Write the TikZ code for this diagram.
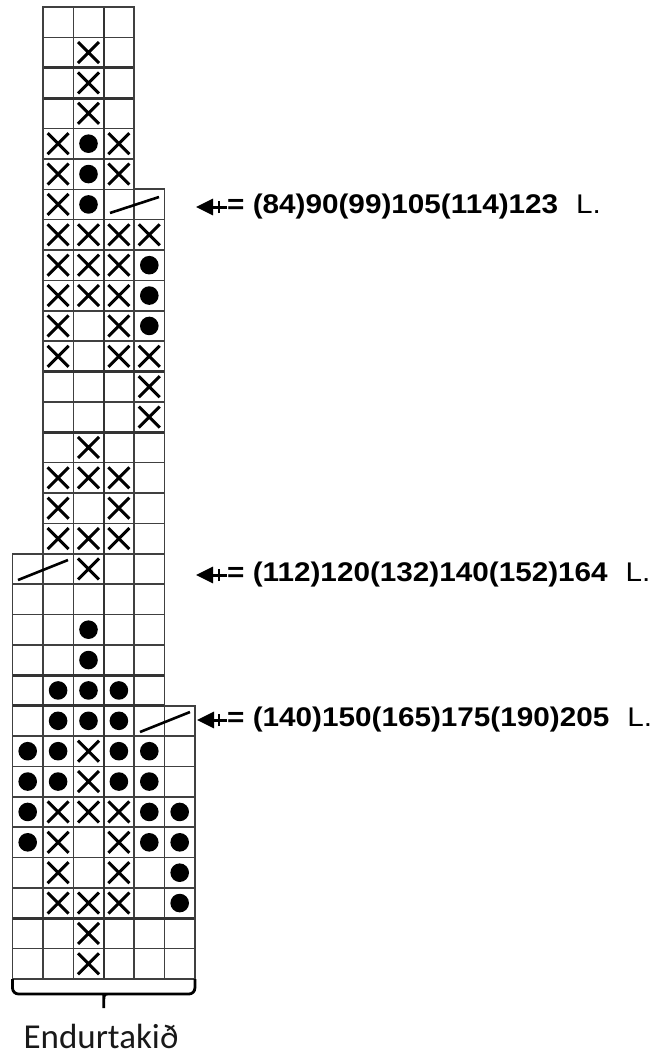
\documentclass[tikz,border=0pt]{standalone}
\usepackage{fontspec}
\usepackage{graphicx}
\newfontfamily\lblfont{Liberation Sans}
\newfontfamily\capfont{Carlito}
\usetikzlibrary{arrows.meta}
\tikzset{
 gridl/.style={draw=black!75, line width=1.5pt},
 thickl/.style={draw=black!80, line width=3.2pt},
 medl/.style={draw=black!80, line width=2.4pt},
 borderl/.style={draw=black!75, line width=1.8pt},
 xmark/.style={line width=3pt, draw=black},
 slashl/.style={line width=2.6pt, draw=black},
 lbl/.style={font=\lblfont\bfseries\fontsize{27}{32}\selectfont, inner sep=0pt, anchor=west},
 larrow/.style={line width=3pt, -{Triangle[length=17pt,width=16pt]}},
 crossbar/.style={line width=2.6pt},
 bracel/.style={line width=2.8pt, draw=black},
 captext/.style={font=\capfont\fontsize{35}{42}\selectfont, text=black!90, inner sep=0pt, anchor=base},
}
\newcommand\cellbox[2]{\draw[gridl] ({12.5+(#1-1)*30.4},{7+(#2-1)*30.375}) rectangle ++(30.4,30.375);}
\newcommand\mkX[2]{\draw[xmark] ({12.5+(#1-0.5)*30.4-10.5},{7+(#2-0.5)*30.375-10.5}) -- ++(21,21) ({12.5+(#1-0.5)*30.4-10.5},{7+(#2-0.5)*30.375+10.5}) -- ++(21,-21);}
\newcommand\mkD[2]{\fill[black] ({12.5+(#1-0.5)*30.4},{7+(#2-0.5)*30.375}) circle (9.3pt);}
\begin{document}
\begin{tikzpicture}[x=1pt,y=-1pt]
\useasboundingbox (0,0) rectangle (654,1057);
% grid cells
\foreach \r in {1,...,6}{\foreach \c in {2,...,4}{\cellbox{\c}{\r}}}
\foreach \r in {7,...,18}{\foreach \c in {2,...,5}{\cellbox{\c}{\r}}}
\foreach \r in {19,...,23}{\foreach \c in {1,...,5}{\cellbox{\c}{\r}}}
\foreach \r in {24,...,32}{\foreach \c in {1,...,6}{\cellbox{\c}{\r}}}
% heavy lines
\draw[thickl] (42.9,67.75) -- (134.1,67.75);
\draw[thickl] (42.9,98.1) -- (134.1,98.1);
\draw[thickl] (42.9,371.5) -- (164.5,371.5);
\draw[thickl] (42.9,432.25) -- (164.5,432.25);
\draw[thickl] (12.5,675.25) -- (164.5,675.25);
\draw[medl] (12.5,705.6) -- (164.5,705.6);
\draw[thickl] (12.5,918.25) -- (194.9,918.25);
\draw[medl] (103.7,7) -- (103.7,979);
% outline
\draw[borderl] (42.9,7) -- (134.1,7) -- (134.1,189.25) -- (164.5,189.25) -- (164.5,705.6) -- (194.9,705.6) -- (194.9,979) -- (12.5,979) -- (12.5,553.75) -- (42.9,553.75) -- cycle;
% symbols
\mkX{3}{2} \mkX{3}{3} \mkX{3}{4}
\mkX{2}{5} \mkD{3}{5} \mkX{4}{5}
\mkX{2}{6} \mkD{3}{6} \mkX{4}{6}
\mkX{2}{7} \mkD{3}{7}
\draw[slashl] (110,213) -- (159,197);
\mkX{2}{8} \mkX{3}{8} \mkX{4}{8} \mkX{5}{8}
\mkX{2}{9} \mkX{3}{9} \mkX{4}{9} \mkD{5}{9}
\mkX{2}{10} \mkX{3}{10} \mkX{4}{10} \mkD{5}{10}
\mkX{2}{11} \mkX{4}{11} \mkD{5}{11}
\mkX{2}{12} \mkX{4}{12} \mkX{5}{12}
\mkX{5}{13}
\mkX{5}{14}
\mkX{3}{15}
\mkX{2}{16} \mkX{3}{16} \mkX{4}{16}
\mkX{2}{17} \mkX{4}{17}
\mkX{2}{18} \mkX{3}{18} \mkX{4}{18}
\draw[slashl] (18,580) -- (68,560);
\mkX{3}{19}
\mkD{3}{21}
\mkD{3}{22}
\mkD{2}{23} \mkD{3}{23} \mkD{4}{23}
\mkD{2}{24} \mkD{3}{24} \mkD{4}{24}
\draw[slashl] (140,732) -- (190,712);
\mkD{1}{25} \mkD{2}{25} \mkX{3}{25} \mkD{4}{25} \mkD{5}{25}
\mkD{1}{26} \mkD{2}{26} \mkX{3}{26} \mkD{4}{26} \mkD{5}{26}
\mkD{1}{27} \mkX{2}{27} \mkX{3}{27} \mkX{4}{27} \mkD{5}{27} \mkD{6}{27}
\mkD{1}{28} \mkX{2}{28} \mkX{4}{28} \mkD{5}{28} \mkD{6}{28}
\mkX{2}{29} \mkX{4}{29} \mkD{6}{29}
\mkX{2}{30} \mkX{3}{30} \mkX{4}{30} \mkD{6}{30}
\mkX{3}{31}
\mkX{3}{32}
% labels
\node[lbl] (l1) at (227,207) {\scalebox{1.1}[1]{= (84)90(99)105(114)123\hspace{0.6em}{\mdseries L.}}};
\coordinate (t1) at (196,207);
\draw[larrow] (l1.west) -- (t1);
\draw[crossbar] ([xshift=-8pt,yshift=-6pt]l1.west) -- ([xshift=-8pt,yshift=6pt]l1.west);
\node[lbl] (l2) at (227,575) {\scalebox{1.1}[1]{= (112)120(132)140(152)164\hspace{0.6em}{\mdseries L.}}};
\coordinate (t2) at (196,575);
\draw[larrow] (l2.west) -- (t2);
\draw[crossbar] ([xshift=-8pt,yshift=-6pt]l2.west) -- ([xshift=-8pt,yshift=6pt]l2.west);
\node[lbl] (l3) at (227,720) {\scalebox{1.1}[1]{= (140)150(165)175(190)205\hspace{0.6em}{\mdseries L.}}};
\coordinate (t3) at (197,720);
\draw[larrow] (l3.west) -- (t3);
\draw[crossbar] ([xshift=-8pt,yshift=-6pt]l3.west) -- ([xshift=-8pt,yshift=6pt]l3.west);
% brace
\draw[bracel] (12.5,979) [rounded corners=6pt] -- (12.5,994) -- (99,994) [sharp corners] .. controls (103.7,994) .. (103.7,1008) .. controls (103.7,994) .. (108.4,994) [rounded corners=6pt] -- (194.9,994) -- (194.9,979);
\node[captext] (rep) at (101,1048) {Endurtakið};
\end{tikzpicture}
\end{document}
